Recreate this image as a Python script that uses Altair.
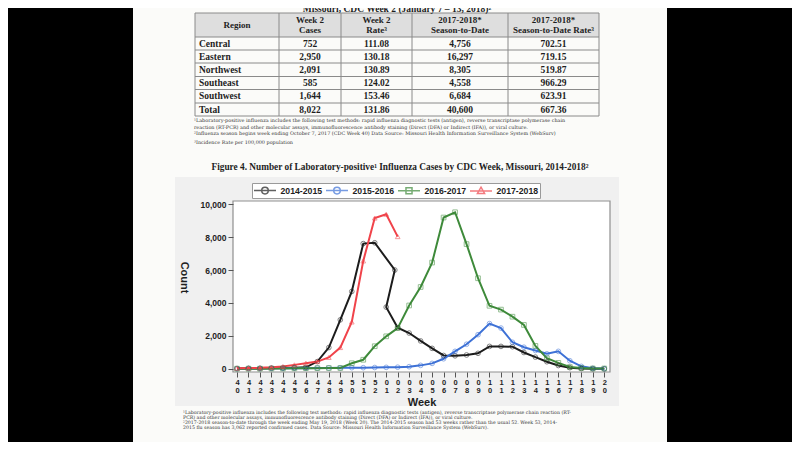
import altair as alt
import pandas as pd

# ---------------- data ----------------
weeks = ["40", "41", "42", "43", "44", "45", "46", "47", "48", "49", "50", "51", "52",
         "01", "02", "03", "04", "05", "06", "07", "08", "09", "10", "11", "12", "13",
         "14", "15", "16", "17", "18", "19", "20"]
seasons = ["2014-2015", "2015-2016", "2016-2017", "2017-2018"]
season_colors = ["#1c1c1c", "#3d71d6", "#3e8a3a", "#f0434a"]
marker_shapes = ["circle", "circle", "square", "triangle-up"]

# 2014-2015 had a week 53 (drawn between weeks 01 and 02 in the source)
weeks_1415 = weeks[:13] + ["53"] + weeks[13:]
cases_1415 = [30, 40, 40, 50, 60, 80, 100, 450, 1300, 2980, 4700, 7600, 7650,
              6000, 3750, 2500, 2180, 1700, 1250, 820, 800, 850, 950, 1370,
              1370, 1350, 1000, 720, 440, 210, 80, 30, 20, 10]
week53_pos = 13.75
weeks_1516 = weeks
cases_1516 = [20, 30, 30, 40, 40, 50, 50, 60, 60, 70, 80, 80, 90, 100, 110, 140, 220,
              340, 620, 1070, 1500, 2080, 2750, 2480, 1620, 1320, 1120, 920, 1070,
              500, 160, 40, 20]
weeks_1617 = weeks
cases_1617 = [20, 20, 20, 30, 30, 40, 50, 50, 60, 60, 350, 560, 1380, 1980, 2480, 3850,
              4970, 6450, 9180, 9500, 7570, 5500, 3830, 3600, 3170, 2670, 1400, 650,
              370, 120, 60, 30, 30]
weeks_1718 = weeks[:15]
cases_1718 = [50, 60, 70, 100, 150, 250, 350, 450, 700, 1300, 2850, 6550, 9150, 9380, 8022]

y_ticks = [0, 2000, 4000, 6000, 8000, 10000]

regions = ["Central", "Eastern", "Northwest", "Southeast", "Southwest", "Total"]
week2_cases = [752, 2950, 2091, 585, 1644, 8022]
week2_rate = [111.08, 130.18, 130.89, 124.02, 153.46, 131.86]
season_cases = [4756, 16297, 8305, 4558, 6684, 40600]
season_rate = [702.51, 719.15, 519.87, 966.29, 623.91, 667.36]
table_headers = ["Region", "Week 2\nCases", "Week 2\nRate³", "2017-2018*\nSeason-to-Date",
                 "2017-2018*\nSeason-to-Date Rate³"]

page_title = "Missouri, CDC Week 2 (January 7 – 13, 2018)²"
table_notes = [
    "¹Laboratory-positive influenza includes the following test methods: rapid influenza diagnostic tests (antigen), reverse transcriptase polymerase chain",
    "reaction (RT-PCR) and other molecular assays, immunofluorescence antibody staining (Direct (DFA) or Indirect (IFA)), or viral culture.",
    "²Influenza season begins week ending October 7, 2017 (CDC Week 40) Data Source: Missouri Health Information Surveillance System (WebSurv)",
    "³Incidence Rate per 100,000 population",
]
figure_title = "Figure 4.  Number of Laboratory-positive¹ Influenza Cases by CDC Week, Missouri, 2014-2018²"
figure_notes = [
    "¹Laboratory-positive influenza includes the following test methods: rapid influenza diagnostic tests (antigen), reverse transcriptase polymerase chain reaction (RT-",
    "PCR) and other molecular assays, immunofluorescence antibody staining (Direct (DFA) or Indirect (IFA)), or viral culture.",
    "²2017-2018 season-to-date through the week ending May 19, 2018 (Week 20). The 2014-2015 season had 53 weeks rather than the usual 52.  Week 53, 2014-",
    "2015 flu season has 3,062 reported confirmed cases. Data Source: Missouri Health Information Surveillance System (WebSurv).",
]

# ---------------- layout (page pixels) ----------------
PL, PT, PR, PB = 233, 201, 610, 372          # plot frame
W, H = PR - PL, PB - PT
CANVAS_W, CANVAS_H = 784, 434


def vx(p):
    return p - PL


def vy(p):
    return p - PT


PAGE_BG = "#fbfbf9"
INK = "#1e1e1e"
SERIF = "Liberation Serif"
SMALL_SERIF = "DejaVu Serif"
SANS = "Liberation Sans"

one = pd.DataFrame({"k": [0]})


def box(x0, y0, x1, y1, **kw):
    return alt.Chart(one).mark_rect(**kw).encode(
        x=alt.value(vx(x0)), x2=alt.value(vx(x1)),
        y=alt.value(vy(y0)), y2=alt.value(vy(y1)))


def px(field):
    return alt.X(field + ":Q", scale=None, axis=None)


def py(field):
    return alt.Y(field + ":Q", scale=None, axis=None)


def text_layer(df, **kw):
    return alt.Chart(df).mark_text(**kw).encode(x=px("x"), y=py("y"), text="t:N")


# page and panels
page = box(133, 0, 667, 450, fill=PAGE_BG)
panel = box(175, 177, 619, 406, fill="#f0f0f0")
frame = box(PL, PT, PR, PB, fill="white", stroke="#8f8f8f", strokeWidth=1.2)

# ---------------- table ----------------
col_edges = [195, 279, 341, 412, 508, 599]
row_edges = [13, 37, 50, 63, 76.5, 89.5, 103, 116]
header_fill = box(col_edges[0], row_edges[0], col_edges[-1], row_edges[1], fill="#dedede")

rules = []
for yy in row_edges:
    rules.append({"x": vx(col_edges[0]), "x2": vx(col_edges[-1]), "y": vy(yy), "y2": vy(yy)})
for xx in col_edges:
    rules.append({"x": vx(xx), "x2": vx(xx), "y": vy(row_edges[0]), "y2": vy(row_edges[-1])})
table_rules = alt.Chart(pd.DataFrame(rules)).mark_rule(color="#8a8a8a", strokeWidth=1).encode(
    x=px("x"), x2="x2:Q", y=py("y"), y2="y2:Q")

col_centers = [(a + b) / 2 for a, b in zip(col_edges[:-1], col_edges[1:])]
row_centers = [(a + b) / 2 for a, b in zip(row_edges[:-1], row_edges[1:])]

hdr_df = pd.DataFrame({"x": [vx(c) for c in col_centers[1:]],
                       "y": [vy(row_edges[0] + 2.5)] * 4,
                       "t": table_headers[1:]})
hdr_text = text_layer(hdr_df, font=SERIF, fontSize=9, fontWeight="bold", color=INK,
                      lineBreak="\n", lineHeight=10.5, baseline="top", align="center")
hdr_region = text_layer(pd.DataFrame({"x": [vx(col_centers[0])], "y": [vy(row_centers[0])],
                                      "t": table_headers[:1]}),
                        font=SERIF, fontSize=9, fontWeight="bold", color=INK,
                        baseline="middle", align="center")

reg_df = pd.DataFrame({"x": [vx(col_edges[0] + 4)] * 6,
                       "y": [vy(c) for c in row_centers[1:]],
                       "t": regions})
reg_text = text_layer(reg_df, font=SERIF, fontSize=9.5, fontWeight="bold", color=INK,
                      baseline="middle", align="left")

cells = []
for r in range(6):
    vals = [f"{week2_cases[r]:,}", f"{week2_rate[r]:.2f}", f"{season_cases[r]:,}",
            f"{season_rate[r]:.2f}"]
    for c, v in enumerate(vals):
        cells.append({"x": vx(col_centers[c + 1]), "y": vy(row_centers[r + 1]), "t": v})
cell_text = text_layer(pd.DataFrame(cells), font=SERIF, fontSize=9.5, fontWeight="bold",
                       color=INK, baseline="middle", align="center")

title_top = text_layer(pd.DataFrame({"x": [vx(397)], "y": [vy(9)], "t": [page_title]}),
                       font=SERIF, fontSize=9.5, fontWeight="bold", color=INK,
                       baseline="middle", align="center")

tn_df = pd.DataFrame({"x": [vx(194)] * 4,
                      "y": [vy(v) for v in (121, 127.5, 134, 142.5)],
                      "t": table_notes})
tn_text = text_layer(tn_df, font=SMALL_SERIF, fontSize=4.9, color="#333333",
                     baseline="middle", align="left")

fig_title = text_layer(pd.DataFrame({"x": [vx(400)], "y": [vy(167)], "t": [figure_title]}),
                       font=SERIF, fontSize=9.3, fontWeight="bold", color=INK,
                       baseline="middle", align="center")

fn_df = pd.DataFrame({"x": [vx(183)] * 4,
                      "y": [vy(v) for v in (412.6, 417.8, 423.0, 428.2)],
                      "t": figure_notes})
fn_text = text_layer(fn_df, font=SMALL_SERIF, fontSize=4.7, color="#333333",
                     baseline="middle", align="left")

# ---------------- line chart ----------------
def week_pos(w):
    return float(weeks.index(w)) if w in weeks else week53_pos


rows = []
for s, wk, cs in zip(seasons, [weeks_1415, weeks_1516, weeks_1617, weeks_1718],
                     [cases_1415, cases_1516, cases_1617, cases_1718]):
    for i, (w, c) in enumerate(zip(wk, cs)):
        rows.append({"season": s, "week": w, "pos": week_pos(w), "count": c, "seq": i})
df = pd.DataFrame(rows)

label_expr = "split([" + ",".join(f"'{w}'" for w in weeks) + "][datum.value], '')"

x_axis = alt.Axis(values=list(range(len(weeks))), labelExpr=label_expr,
                  labelFont=SANS, labelFontWeight="bold", labelFontSize=7.5,
                  labelLineHeight=8, labelColor=INK, labelAngle=0,
                  labelPadding=1.5, labelBaseline="top", labelOverlap=False,
                  labelFlush=False,
                  tickSize=5, tickColor="#555555", domain=False, grid=False,
                  title="Week", titleFont=SANS, titleFontWeight="bold",
                  titleFontSize=11, titleColor=INK, titleY=30,
                  titleBaseline="middle", zindex=1)
y_axis = alt.Axis(values=y_ticks, format=",d", labelFont=SANS,
                  labelFontWeight="bold", labelFontSize=8.5, labelColor=INK,
                  labelPadding=2, labelOverlap=False, labelFlush=False,
                  tickSize=5, tickColor="#555555", domain=False,
                  grid=False, title="Count", titleFont=SANS,
                  titleFontWeight="bold", titleFontSize=11, titleColor=INK,
                  titleAngle=90, titleX=-50, titleY=76, titleAlign="center",
                  titleBaseline="middle", zindex=1)
x_scale = alt.Scale(domain=[-0.35, 32.5], nice=False, zero=False)
y_scale = alt.Scale(domain=[-182, 10182], nice=False, zero=False)


def x_enc():
    return alt.X("pos:Q", scale=x_scale, axis=x_axis)


def y_enc():
    return alt.Y("count:Q", scale=y_scale, axis=y_axis)


color_scale = alt.Scale(domain=seasons, range=season_colors)

lines = alt.Chart(df).mark_line(strokeWidth=2).encode(
    x=x_enc(), y=y_enc(),
    color=alt.Color("season:N", scale=color_scale, legend=None),
    order="seq:Q")

points = alt.Chart(df).mark_point(filled=False, size=22, strokeWidth=1, opacity=0.55).encode(
    x=x_enc(), y=y_enc(),
    color=alt.Color("season:N", scale=color_scale, legend=None),
    shape=alt.Shape("season:N", scale=alt.Scale(domain=seasons, range=marker_shapes),
                    legend=None))

legend_paths = [
    "M-2,0H2M-0.6,0A0.6,0.6,0,1,0,0.6,0A0.6,0.6,0,1,0,-0.6,0",
    "M-2,0H2M-0.6,0A0.6,0.6,0,1,0,0.6,0A0.6,0.6,0,1,0,-0.6,0",
    "M-2,0H2M-0.55,-0.55H0.55V0.55H-0.55Z",
    "M-2,0H2M0,-0.7L0.65,0.45H-0.65Z",
]
leg = alt.Legend(orient="none", legendX=vx(252), legendY=vy(183), direction="horizontal",
                 title=None, fillColor="white", strokeColor="#9a9a9a", padding=1,
                 symbolSize=121, symbolOffset=5.5, symbolStrokeWidth=1.5,
                 labelOffset=9, columnPadding=0, labelFont=SANS, labelFontSize=8.7,
                 labelFontWeight="bold", labelColor=INK, zindex=2)
leg_df = pd.DataFrame({"season": seasons, "pos": [0.0] * 4, "count": [-1e6] * 4})
legend_layer = alt.Chart(leg_df).mark_point(filled=False, clip=True).encode(
    x=x_enc(), y=y_enc(),
    color=alt.Color("season:N", scale=color_scale, legend=leg),
    shape=alt.Shape("season:N", scale=alt.Scale(domain=seasons, range=legend_paths),
                    legend=leg))

main = alt.layer(lines, points, legend_layer).resolve_scale(color="independent",
                                                           shape="independent")

chart = alt.layer(
    page, panel, frame, header_fill, table_rules, hdr_text, hdr_region, reg_text, cell_text,
    title_top, tn_text, fig_title, fn_text, main
).resolve_scale(x="independent", y="independent").properties(
    width=W, height=H,
    background="black",
    padding={"left": PL - 8, "top": PT - 8, "right": CANVAS_W - (PL - 8) - W,
             "bottom": CANVAS_H - (PT - 8) - H},
    autosize=alt.AutoSizeParams(type="none"),
).configure_view(strokeWidth=0).configure_axis(labelOverlap=False)

chart.save("out.html", embed_options={"renderer": "svg", "actions": False})
